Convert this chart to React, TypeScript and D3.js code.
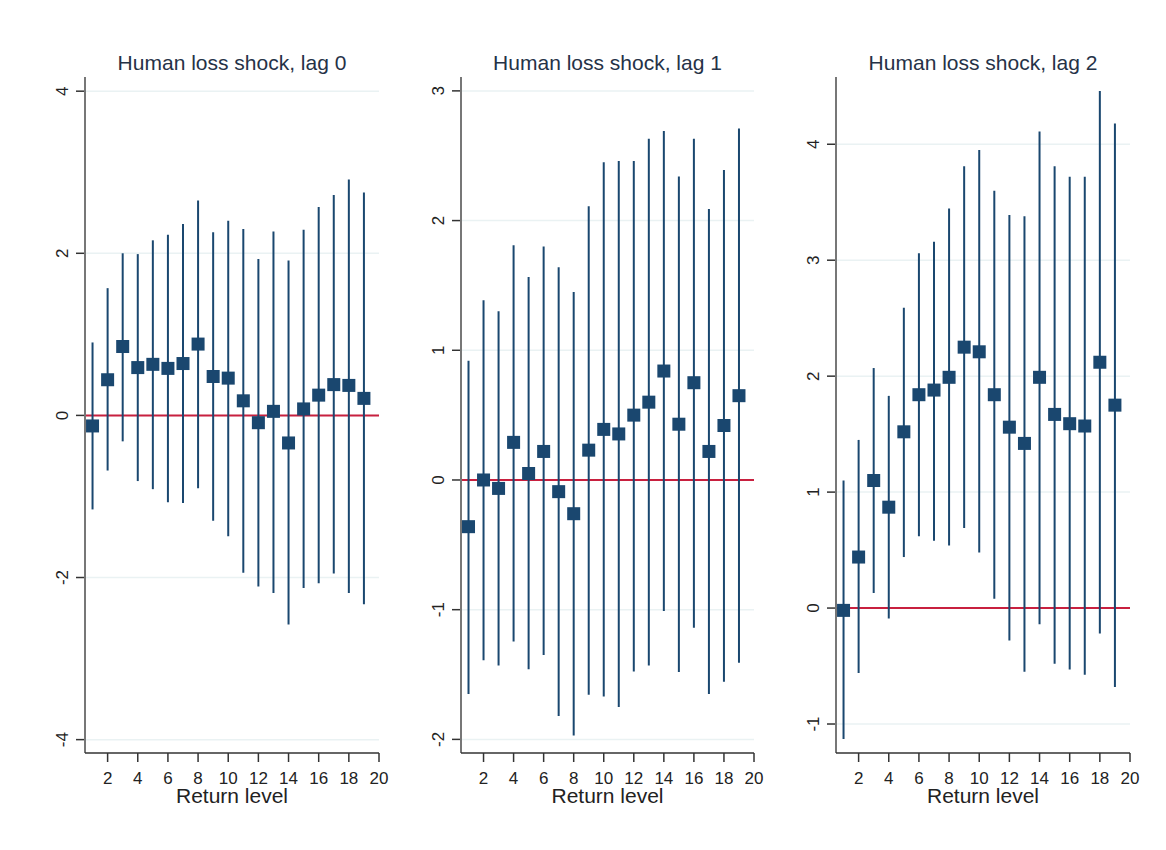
import React from 'react';
import * as d3 from 'd3';

// Return levels 1..19
const levels = d3.range(1, 20);
const xTicks = [2, 4, 6, 8, 10, 12, 14, 16, 18, 20];

const titles = ['Human loss shock, lag 0', 'Human loss shock, lag 1', 'Human loss shock, lag 2'];

// lag 0
const est0 = [-0.13, 0.44, 0.85, 0.59, 0.63, 0.58, 0.64, 0.88, 0.48, 0.46, 0.18, -0.09, 0.05, -0.34, 0.08, 0.25, 0.38, 0.37, 0.21];
const hi0 = [0.9, 1.57, 2.0, 1.99, 2.16, 2.23, 2.36, 2.65, 2.26, 2.4, 2.3, 1.93, 2.27, 1.91, 2.29, 2.57, 2.72, 2.91, 2.75];
const lo0 = [-1.16, -0.68, -0.32, -0.81, -0.91, -1.07, -1.08, -0.9, -1.3, -1.49, -1.94, -2.11, -2.19, -2.58, -2.13, -2.07, -1.95, -2.19, -2.33];
const yTicks0 = [-4, -2, 0, 2, 4];

// lag 1
const est1 = [-0.36, 0.0, -0.065, 0.29, 0.05, 0.22, -0.09, -0.26, 0.23, 0.39, 0.355, 0.5, 0.6, 0.84, 0.43, 0.75, 0.22, 0.42, 0.65];
const hi1 = [0.92, 1.385, 1.3, 1.81, 1.565, 1.8, 1.64, 1.45, 2.11, 2.45, 2.46, 2.46, 2.63, 2.69, 2.34, 2.63, 2.09, 2.39, 2.71];
const lo1 = [-1.65, -1.39, -1.43, -1.245, -1.46, -1.35, -1.82, -1.97, -1.655, -1.67, -1.75, -1.476, -1.43, -1.01, -1.48, -1.14, -1.65, -1.555, -1.41];
const yTicks1 = [-2, -1, 0, 1, 2, 3];

// lag 2
const est2 = [-0.02, 0.44, 1.1, 0.87, 1.52, 1.84, 1.88, 1.99, 2.25, 2.21, 1.84, 1.56, 1.42, 1.99, 1.67, 1.59, 1.57, 2.12, 1.75];
const hi2 = [1.1, 1.45, 2.07, 1.83, 2.59, 3.06, 3.16, 3.445, 3.81, 3.95, 3.6, 3.39, 3.38, 4.11, 3.81, 3.72, 3.72, 4.46, 4.18];
const lo2 = [-1.13, -0.56, 0.13, -0.09, 0.44, 0.62, 0.58, 0.54, 0.69, 0.48, 0.08, -0.28, -0.55, -0.14, -0.48, -0.53, -0.575, -0.22, -0.68];
const yTicks2 = [-1, 0, 1, 2, 3, 4];

const panels = [
  { title: titles[0], est: est0, hi: hi0, lo: lo0, ticks: yTicks0, domain: [-4.165, 4.175], left: 85, right: 379 },
  { title: titles[1], est: est1, hi: hi1, lo: lo1, ticks: yTicks1, domain: [-2.105, 3.107], left: 461, right: 754 },
  { title: titles[2], est: est2, hi: hi2, lo: lo2, ticks: yTicks2, domain: [-1.25, 4.58], left: 836, right: 1130 },
];

const top = 77;
const bottom = 753;
const navy = '#1a476f';
const font = 'Arial, "Liberation Sans", sans-serif';

const Panel = ({ p }: { p: typeof panels[0] }) => {
  const x = d3.scaleLinear().domain([0.5, 20]).range([p.left, p.right]);
  const y = d3.scaleLinear().domain(p.domain).range([bottom, top]);
  const cx = (p.left + p.right) / 2;
  const ms = 13;
  return (
    <g>
      <text x={cx} y={70} textAnchor="middle" fontSize={21} fill="#253247" fontFamily={font}>{p.title}</text>
      {p.ticks.map(t => (
        <g key={t}>
          <line x1={p.left} x2={p.right} y1={y(t)} y2={y(t)} stroke="#eaf2f3" strokeWidth={1.5} />
          <line x1={p.left - 9} x2={p.left} y1={y(t)} y2={y(t)} stroke="#333" strokeWidth={1.5} />
          <text transform={`translate(${p.left - 17},${y(t)}) rotate(-90)`} textAnchor="middle" fontSize={17} fill="#222" fontFamily={font}>{t}</text>
        </g>
      ))}
      <line x1={p.left} x2={p.right} y1={y(0)} y2={y(0)} stroke="#c8203f" strokeWidth={2} />
      {levels.map((l, i) => (
        <line key={'ci' + l} x1={x(l)} x2={x(l)} y1={y(p.lo[i])} y2={y(p.hi[i])} stroke={navy} strokeWidth={2} />
      ))}
      {levels.map((l, i) => (
        <rect key={'m' + l} x={x(l) - ms / 2} y={y(p.est[i]) - ms / 2} width={ms} height={ms} fill={navy} />
      ))}
      <line x1={p.left} x2={p.left} y1={top} y2={bottom} stroke="#777" strokeWidth={2} />
      <line x1={p.left} x2={p.right} y1={bottom} y2={bottom} stroke="#333" strokeWidth={1.5} />
      {xTicks.map(t => (
        <g key={'x' + t}>
          <line x1={x(t)} x2={x(t)} y1={bottom} y2={bottom + 9} stroke="#333" strokeWidth={1.5} />
          <text x={x(t)} y={784} textAnchor="middle" fontSize={17} fill="#222" fontFamily={font}>{t}</text>
        </g>
      ))}
      <text x={cx} y={803} textAnchor="middle" fontSize={21} fill="#222" fontFamily={font}>Return level</text>
    </g>
  );
};

export default function App() {
  return (
    <svg width={1166} height={850} style={{ position: 'absolute', left: 0, top: 0, background: '#fff' }}>
      <rect width={1166} height={850} fill="#fff" />
      {panels.map(p => <Panel key={p.title} p={p} />)}
    </svg>
  );
}
